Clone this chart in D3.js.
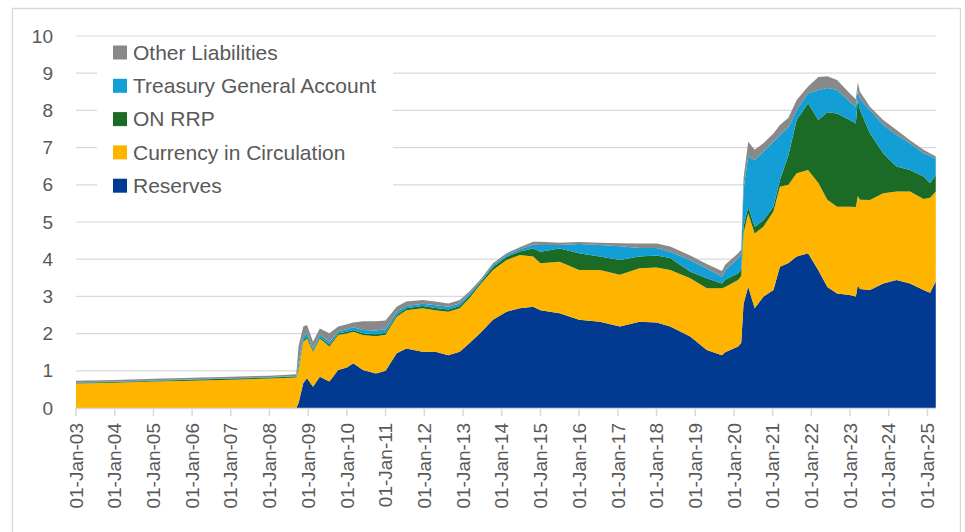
<!DOCTYPE html>
<html lang="en">
<head>
  <meta charset="UTF-8">
  <title>Fed Liabilities</title>
  <script src="https://d3js.org/d3.v7.min.js"></script>
  <style>
    body {
      margin: 0;
      background: #fff;
      font-family: "Liberation Sans", Arial, sans-serif;
    }
    svg { display: block; }
    .tick-label { fill: #595959; font-size: 19px; }
    .legend-text { fill: #595959; font-size: 21px; }
  </style>
</head>
<body>
  <svg width="965" height="532"></svg>

  <script>
    // dates of the readings (trillions of dollars)
    const dates = [
      "2003-01-01", "2004-01-01", "2005-01-01", "2006-01-01", "2007-01-01", "2008-01-01",
      "2008-09-10", "2008-10-01", "2008-11-15", "2008-12-20", "2009-02-15", "2009-04-20",
      "2009-07-20", "2009-10-10", "2010-01-01", "2010-03-01", "2010-06-01", "2010-10-01",
      "2011-01-01", "2011-04-15", "2011-07-15", "2011-12-15", "2012-04-15", "2012-08-15",
      "2012-12-01", "2013-03-01", "2013-06-10", "2013-10-10", "2014-02-15", "2014-06-20",
      "2014-10-25", "2015-01-01", "2015-07-01", "2016-01-01", "2016-07-15", "2017-01-20",
      "2017-07-25", "2018-01-01", "2018-05-10", "2018-11-15", "2019-04-20", "2019-09-10",
      "2019-10-10", "2020-02-10", "2020-03-10", "2020-04-01", "2020-05-15", "2020-07-15",
      "2020-10-05", "2021-01-08", "2021-03-10", "2021-05-30", "2021-08-15", "2021-12-01",
      "2022-03-08", "2022-06-01", "2022-09-01", "2022-12-28", "2023-02-25", "2023-03-15",
      "2023-04-05", "2023-07-08", "2023-11-10", "2024-03-15", "2024-07-20", "2024-11-25",
      "2025-01-25", "2025-03-20"
    ];

    const reserves = [
      0, 0, 0, 0, 0, 0,
      0, 0.13, 0.67, 0.80, 0.57, 0.84,
      0.71, 1.02, 1.09, 1.20, 1.02, 0.93,
      1.00, 1.47, 1.60, 1.51, 1.51, 1.42,
      1.51, 1.74, 2.01, 2.37, 2.59, 2.68,
      2.72, 2.63, 2.55, 2.37, 2.32, 2.19,
      2.32, 2.30, 2.19, 1.92, 1.56, 1.42,
      1.50, 1.65, 1.75, 2.80, 3.26, 2.68,
      2.99, 3.17, 3.80, 3.90, 4.07, 4.16,
      3.70, 3.25, 3.08, 3.04, 3.00, 3.30,
      3.20, 3.17, 3.35, 3.44, 3.35, 3.17,
      3.10, 3.40
    ];

    const currency = [
      0.66, 0.68, 0.71, 0.73, 0.76, 0.79,
      0.82, 0.89, 1.11, 1.07, 0.94, 1.03,
      0.94, 0.94, 0.91, 0.85, 0.94, 1.00,
      0.97, 0.98, 1.03, 1.17, 1.12, 1.17,
      1.17, 1.21, 1.30, 1.34, 1.39, 1.43,
      1.35, 1.26, 1.38, 1.34, 1.39, 1.39,
      1.44, 1.48, 1.52, 1.57, 1.66, 1.80,
      1.75, 1.79, 1.80, 1.90, 1.97, 2.01,
      1.88, 2.11, 2.15, 2.10, 2.24, 2.24,
      2.35, 2.35, 2.33, 2.37, 2.40, 2.40,
      2.40, 2.42, 2.42, 2.38, 2.47, 2.45,
      2.55, 2.42
    ];

    const onRrp = [
      0.02, 0.02, 0.025, 0.03, 0.03, 0.03,
      0.03, 0.05, 0.05, 0.05, 0.04, 0.04,
      0.05, 0.04, 0.05, 0.05, 0.05, 0.05,
      0.05, 0.05, 0.05, 0.06, 0.06, 0.06,
      0.06, 0.06, 0.05, 0.08, 0.08, 0.10,
      0.22, 0.31, 0.36, 0.45, 0.36, 0.40,
      0.31, 0.32, 0.32, 0.17, 0.27, 0.13,
      0.20, 0.18, 0.18, 0.18, 0.18, 0.18,
      0.18, 0.13, 0.18, 0.80, 1.43, 1.79,
      1.69, 2.35, 2.51, 2.33, 2.25, 2.60,
      2.41, 1.79, 1.08, 0.67, 0.58, 0.60,
      0.40, 0.44
    ];

    const tga = [
      0.01, 0.01, 0.01, 0.01, 0.01, 0.01,
      0.01, 0.15, 0.10, 0.08, 0.06, 0.07,
      0.08, 0.06, 0.07, 0.07, 0.09, 0.10,
      0.10, 0.08, 0.06, 0.06, 0.07, 0.07,
      0.07, 0.06, 0.04, 0.05, 0.05, 0.06,
      0.10, 0.18, 0.09, 0.25, 0.31, 0.37,
      0.23, 0.20, 0.17, 0.32, 0.26, 0.18,
      0.25, 0.41, 0.40, 1.00, 1.35, 1.80,
      1.84, 1.75, 1.21, 0.75, 0.27, 0.27,
      0.81, 0.65, 0.63, 0.49, 0.45, 0.25,
      0.29, 0.63, 0.76, 0.85, 0.72, 0.63,
      0.73, 0.45
    ];

    const other = [
      0.04, 0.04, 0.04, 0.04, 0.04, 0.04,
      0.05, 0.43, 0.26, 0.23, 0.17, 0.16,
      0.23, 0.13, 0.13, 0.13, 0.23, 0.25,
      0.23, 0.14, 0.12, 0.10, 0.10, 0.09,
      0.09, 0.06, 0.04, 0.05, 0.05, 0.05,
      0.08, 0.09, 0.06, 0.05, 0.06, 0.08,
      0.12, 0.12, 0.14, 0.12, 0.12, 0.15,
      0.15, 0.13, 0.13, 0.30, 0.40, 0.27,
      0.23, 0.22, 0.27, 0.25, 0.27, 0.18,
      0.35, 0.32, 0.27, 0.23, 0.20, 0.20,
      0.20, 0.09, 0.13, 0.13, 0.08, 0.09,
      0.07, 0.06
    ];

    const seriesNames = ["Reserves", "Currency in Circulation", "ON RRP", "Treasury General Account", "Other Liabilities"];
    const seriesColors = ["#023a91", "#ffb400", "#1b6b26", "#139fd6", "#898989"];
    const yTicks = [0, 1, 2, 3, 4, 5, 6, 7, 8, 9, 10];
    const tickYears = d3.range(2003, 2026);

    const parse = d3.timeParse("%Y-%m-%d");
    const rows = dates.map((d, i) => ({
      date: parse(d),
      "Reserves": reserves[i],
      "Currency in Circulation": currency[i],
      "ON RRP": onRrp[i],
      "Treasury General Account": tga[i],
      "Other Liabilities": other[i]
    }));

    const svg = d3.select("svg");
    const color = d3.scaleOrdinal().domain(seriesNames).range(seriesColors);

    const x = d3.scaleTime()
      .domain([new Date(2003, 0, 1), new Date(2025, 0, 1)])
      .range([76, 927.5]);
    const y = d3.scaleLinear().domain([0, 10]).range([408, 36]);
    const xRight = 936;

    // outer frame
    svg.append("path")
      .attr("d", "M12.5,540 V8.5 H960.5 V540")
      .attr("fill", "none")
      .attr("stroke", "#d9d9d9")
      .attr("stroke-width", 1.3);

    // gridlines
    svg.append("g")
      .selectAll("line")
      .data(yTicks.slice(1))
      .join("line")
      .attr("x1", 76).attr("x2", xRight)
      .attr("y1", d => y(d)).attr("y2", d => y(d))
      .attr("stroke", "#d9d9d9")
      .attr("stroke-width", 1.2);

    // y labels
    svg.append("g")
      .selectAll("text")
      .data(yTicks)
      .join("text")
      .attr("class", "tick-label")
      .attr("x", 53)
      .attr("y", d => y(d))
      .attr("dy", "0.35em")
      .attr("text-anchor", "end")
      .text(d => d);

    // stacked areas
    const stacked = d3.stack().keys(seriesNames)(rows);
    const area = d3.area()
      .x(d => x(d.data.date))
      .y0(d => y(d[0]))
      .y1(d => y(d[1]));

    svg.append("g")
      .selectAll("path")
      .data(stacked)
      .join("path")
      .attr("fill", d => color(d.key))
      .attr("d", area);

    // x axis
    svg.append("line")
      .attr("x1", 76).attr("x2", xRight)
      .attr("y1", 408.5).attr("y2", 408.5)
      .attr("stroke", "#d9d9d9")
      .attr("stroke-width", 1.5);

    const fmt = d3.timeFormat("%d-%b-%y");
    const xt = svg.append("g")
      .selectAll("g")
      .data(tickYears.map(yr => new Date(yr, 0, 1)))
      .join("g")
      .attr("transform", d => `translate(${x(d)},0)`);

    xt.append("line")
      .attr("y1", 408).attr("y2", 416)
      .attr("stroke", "#d9d9d9")
      .attr("stroke-width", 1.5);

    xt.append("text")
      .attr("class", "tick-label")
      .attr("transform", "translate(0,423) rotate(-90)")
      .attr("dy", "0.35em")
      .attr("text-anchor", "end")
      .text(d => fmt(d));

    // legend
    const legend = svg.append("g");
    legend.append("rect")
      .attr("x", 97).attr("y", 37)
      .attr("width", 296).attr("height", 168)
      .attr("fill", "#fff");

    const legendOrder = seriesNames.slice().reverse();
    const li = legend.selectAll("g.item")
      .data(legendOrder)
      .join("g")
      .attr("class", "item")
      .attr("transform", (d, i) => `translate(113,${52.5 + i * 33.3})`);

    li.append("rect")
      .attr("x", 0).attr("y", -7)
      .attr("width", 14).attr("height", 14)
      .attr("fill", d => color(d));

    li.append("text")
      .attr("class", "legend-text")
      .attr("x", 20)
      .attr("dy", "0.35em")
      .text(d => d);
  </script>
</body>
</html>
